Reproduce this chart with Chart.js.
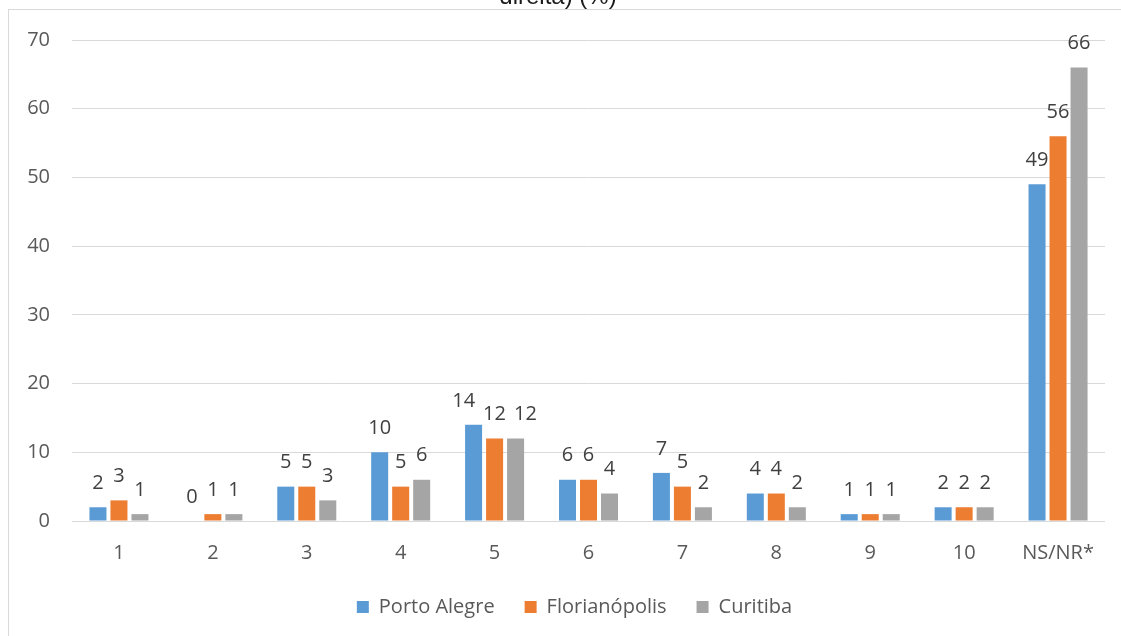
<!DOCTYPE html>
<html lang="pt">
<head>
<meta charset="utf-8">
<title>Porto Alegre, Florianópolis, Curitiba</title>
<script src="https://cdn.jsdelivr.net/npm/chart.js@4/dist/chart.umd.min.js"></script>
<style>
  html, body { margin: 0; padding: 0; background: #fff; overflow: hidden; }
  #wrap { position: relative; width: 1121px; height: 636px; overflow: hidden; }
  #frame {
    position: absolute; left: 8px; top: 9px; width: 1300px; height: 800px;
    border: 1px solid #d9d9d9; box-sizing: border-box;
  }
  #chart { position: absolute; left: 0; top: 0; }
</style>
</head>
<body>
<div id="wrap">
  <div id="frame"></div>
  <canvas id="chart" width="1121" height="636"></canvas>
</div>
<script>
const categories = ["1", "2", "3", "4", "5", "6", "7", "8", "9", "10", "NS/NR*"];
const portoAlegre = [2, 0, 5, 10, 14, 6, 7, 4, 1, 2, 49];
const florianopolis = [3, 1, 5, 5, 12, 6, 5, 4, 1, 2, 56];
const curitiba = [1, 1, 3, 6, 12, 4, 2, 2, 1, 2, 66];
const yTicks = [0, 10, 20, 30, 40, 50, 60, 70];

const FONT = "'Open Sans', 'Noto Sans', sans-serif";

// values printed above each bar; labels that collide inside a group get nudged apart
const barValues = {
  id: "barValues",
  afterDatasetsDraw(chart) {
    const ctx = chart.ctx;
    ctx.save();
    ctx.font = "20px " + FONT;
    ctx.fillStyle = "#404040";
    ctx.textAlign = "center";
    ctx.textBaseline = "middle";
    const n = chart.data.labels.length;
    for (let j = 0; j < n; j++) {
      const items = chart.data.datasets.map((ds, i) => {
        const bar = chart.getDatasetMeta(i).data[j];
        const text = String(ds.data[j]);
        return { text, x: bar.x, y: bar.y - 24, w: ctx.measureText(text).width };
      });
      for (let pass = 0; pass < 4; pass++) {
        for (let k = 1; k < items.length; k++) {
          const a = items[k - 1], b = items[k];
          if (Math.abs(a.y - b.y) > 20) continue;
          const need = (a.w + b.w) / 2 + 8 - (b.x - a.x);
          if (need > 0) { a.x -= need / 2; b.x += need / 2; }
        }
      }
      items.forEach((it) => ctx.fillText(it.text, it.x, it.y));
    }
    ctx.restore();
  },
};

// legend sits a little right of centre
const legendShift = {
  id: "legendShift",
  afterLayout(chart) {
    chart.legend.left += 18;
    chart.legend.right += 18;
  },
};

// second line of the heading, clipped by the top edge
const topHeading = {
  id: "topHeading",
  afterDraw(chart) {
    const ctx = chart.ctx;
    ctx.save();
    ctx.font = "24px 'Liberation Sans', Arial, sans-serif";
    ctx.fillStyle = "#1a1a1a";
    ctx.textAlign = "center";
    ctx.textBaseline = "alphabetic";
    ctx.fillText("direita) (%)", 558, 4);
    ctx.restore();
  },
};

new Chart(document.getElementById("chart"), {
  type: "bar",
  data: {
    labels: categories,
    datasets: [
      { label: "Porto Alegre", data: portoAlegre, backgroundColor: "#5b9bd5" },
      { label: "Florianópolis", data: florianopolis, backgroundColor: "#ed7d31" },
      { label: "Curitiba", data: curitiba, backgroundColor: "#a5a5a5" },
    ],
  },
  options: {
    responsive: false,
    animation: false,
    layout: { padding: { left: 8, right: 16, top: 40, bottom: 9 } },
    datasets: {
      bar: { categoryPercentage: 0.671, barPercentage: 0.81 },
    },
    scales: {
      x: {
        grid: { display: false },
        border: { display: false },
        ticks: { color: "#595959", font: { family: FONT, size: 20 }, padding: 12 },
        afterFit: (s) => { s.height = 46; },
      },
      y: {
        min: 0,
        max: 70,
        afterBuildTicks: (s) => { s.ticks = yTicks.map((v) => ({ value: v })); },
        grid: { color: "#d9d9d9", lineWidth: 1, drawTicks: false },
        border: { display: false },
        ticks: { color: "#595959", font: { family: FONT, size: 20 }, padding: 22 },
        afterFit: (s) => { s.width = 64; },
      },
    },
    plugins: {
      legend: {
        position: "bottom",
        labels: {
          color: "#595959",
          font: { family: FONT, size: 20 },
          boxWidth: 12,
          boxHeight: 12,
          padding: 30,
        },
      },
      tooltip: { enabled: false },
    },
  },
  plugins: [barValues, legendShift, topHeading],
});
</script>
</body>
</html>
